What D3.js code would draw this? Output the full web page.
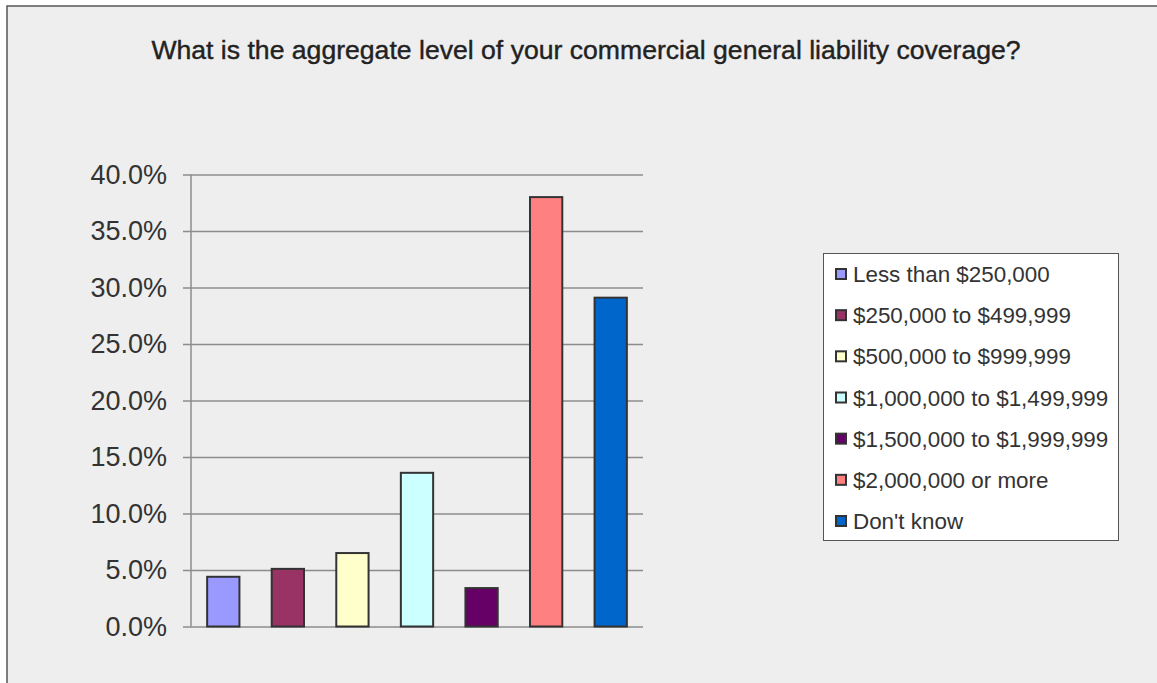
<!DOCTYPE html>
<html>
<head>
<meta charset="utf-8">
<script src="https://cdn.jsdelivr.net/npm/d3@7"></script>
<style>
  html, body { margin: 0; padding: 0; background: #ffffff; }
  svg { display: block; }
  text { font-family: "Liberation Sans", Arial, sans-serif; }
</style>
</head>
<body>
<svg id="chart" width="1157" height="683"></svg>
<script>
// Survey responses: aggregate CGL coverage level
const categories = [
  "Less than $250,000",
  "$250,000 to $499,999",
  "$500,000 to $999,999",
  "$1,000,000 to $1,499,999",
  "$1,500,000 to $1,999,999",
  "$2,000,000 or more",
  "Don't know"
];
const shares = [4.4, 5.1, 6.5, 13.6, 3.4, 38.0, 29.1];
const colors = ["#9999FF", "#993366", "#FFFFCC", "#CCFFFF", "#660066", "#FF8080", "#0066CC"];
const yTicks = [0, 5, 10, 15, 20, 25, 30, 35, 40];
const title = "What is the aggregate level of your commercial general liability coverage?";

const svg = d3.select("#chart");

// chart frame
svg.append("rect")
  .attr("x", 7).attr("y", 6)
  .attr("width", 1160).attr("height", 690)
  .attr("fill", "#eeeeee")
  .attr("stroke", "#555555").attr("stroke-width", 1.5);

svg.append("text")
  .attr("x", 586).attr("y", 59)
  .attr("text-anchor", "middle")
  .attr("font-size", 26.6)
  .attr("fill", "#222222")
  .attr("stroke", "#222222").attr("stroke-width", 0.4)
  .text(title);

const plot = { left: 191, right: 643, top: 174.5, bottom: 626.5 };

const x = d3.scaleBand()
  .domain(categories)
  .range([plot.left, plot.right])
  .paddingInner(0.5)
  .paddingOuter(0.25);

const y = d3.scaleLinear()
  .domain([0, 40])
  .range([plot.bottom, plot.top]);

// horizontal gridlines with tick stubs to the left of the axis
const yAxis = d3.axisLeft(y)
  .tickValues(yTicks)
  .tickFormat(d => d.toFixed(1) + "%")
  .tickSize(-(plot.right - plot.left))
  .tickSizeOuter(0)
  .tickPadding(24);

const gy = svg.append("g")
  .attr("transform", `translate(${plot.left},0)`)
  .call(yAxis);
gy.select(".domain").remove();
gy.selectAll(".tick line")
  .attr("x1", -8)
  .attr("stroke", "#8c8c8c")
  .attr("stroke-width", 1.5);
gy.selectAll(".tick text")
  .attr("font-size", 27)
  .attr("fill", "#333333")
  .attr("font-family", "Liberation Sans, Arial, sans-serif");

// vertical axis line
svg.append("line")
  .attr("x1", plot.left).attr("x2", plot.left)
  .attr("y1", plot.top).attr("y2", plot.bottom)
  .attr("stroke", "#8c8c8c").attr("stroke-width", 1.5);

// bars
svg.append("g").selectAll("rect")
  .data(categories)
  .join("rect")
  .attr("x", d => x(d))
  .attr("width", x.bandwidth())
  .attr("y", (d, i) => y(shares[i]))
  .attr("height", (d, i) => y(0) - y(shares[i]))
  .attr("fill", (d, i) => colors[i])
  .attr("stroke", "#333333")
  .attr("stroke-width", 2);

// legend
const legend = svg.append("g");
legend.append("rect")
  .attr("x", 823.5).attr("y", 253.5)
  .attr("width", 295).attr("height", 287)
  .attr("fill", "#ffffff")
  .attr("stroke", "#555555").attr("stroke-width", 1);

const legendRow = d3.scalePoint()
  .domain(categories)
  .range([274, 521]);

const items = legend.selectAll("g.item")
  .data(categories)
  .join("g")
  .attr("class", "item")
  .attr("transform", d => `translate(0,${legendRow(d)})`);

items.append("rect")
  .attr("x", 836).attr("y", -5)
  .attr("width", 10).attr("height", 10)
  .attr("fill", (d, i) => colors[i])
  .attr("stroke", "#333333").attr("stroke-width", 2);

items.append("text")
  .attr("x", 853).attr("y", 0)
  .attr("dy", "0.36em")
  .attr("font-size", 22.4)
  .attr("fill", "#333333")
  .text(d => d);
</script>
</body>
</html>
